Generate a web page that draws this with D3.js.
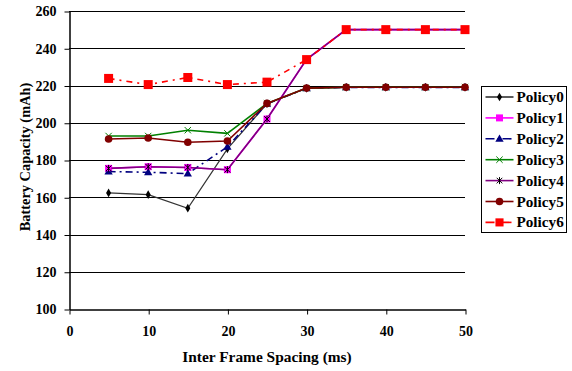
<!DOCTYPE html>
<html>
<head>
<meta charset="utf-8">
<script src="https://cdn.jsdelivr.net/npm/d3@7"></script>
<style>
  body { margin: 0; background: #fff; }
  text { font-family: "Liberation Serif", "Times New Roman", serif; font-weight: bold; }
</style>
</head>
<body>
<div id="chart"></div>
<script>
// data
const spacing = [5, 10, 15, 20, 25, 30, 35, 40, 45, 50];
const policy0 = [162.3, 161.4, 154.1, 186, 210.2, 218.5, 219, 219, 219, 219];
const policy1 = [175.5, 176.4, 176, 174.8, 202, 234, 250, 250, 250, 250];
const policy2 = [173.8, 173.4, 172.7, 187.1, 210.2, 218.5, 219, 219, 219, 219];
const policy3 = [192.9, 192.9, 196, 194.3, 210.4, 218.6, 219.1, 219.1, 219.1, 219.1];
const policy4 = [175.5, 176.4, 176, 174.8, 202, 234, 250, 250, 250, 250];
const policy5 = [191.3, 191.8, 189.5, 190.2, 210.4, 218.6, 219.1, 219.1, 219.1, 219.1];
const policy6 = [223.8, 220.5, 224.3, 220.5, 221.8, 233.9, 250, 250, 250, 250];
const xTicks = [0, 10, 20, 30, 40, 50];
const yTicks = [100, 120, 140, 160, 180, 200, 220, 240, 260];

const series = [
  {name: "Policy0", values: policy0, color: "#000000", line: "#333333", marker: "diamond", dash: null},
  {name: "Policy1", values: policy1, color: "#ff00ff", line: "#ff00ff", marker: "square", dash: null},
  {name: "Policy2", values: policy2, color: "#000080", line: "#000080", marker: "triangle", dash: "7,4,2,4"},
  {name: "Policy3", values: policy3, color: "#008000", line: "#008000", marker: "x", dash: null},
  {name: "Policy4", values: policy4, color: "#000000", line: "#800080", marker: "star", dash: null},
  {name: "Policy5", values: policy5, color: "#800000", line: "#800000", marker: "circle", dash: null},
  {name: "Policy6", values: policy6, color: "#ff0000", line: "#ff0000", marker: "bigsquare", dash: "6,5,2,5"}
];

const width = 572, height = 371;
const margins = {left: 69, right: 107, top: 11, bottom: 62};

const svg = d3.select("#chart")
  .append("svg")
    .attr("width", width)
    .attr("height", height);

const x_scale = d3.scaleLinear()
  .domain([0, 50])
  .range([margins.left, width - margins.right]);

const y_scale = d3.scaleLinear()
  .domain([100, 260])
  .range([height - margins.bottom, margins.top]);

// horizontal gridlines
svg.append("g")
  .selectAll("line")
  .data(yTicks.slice(1))
  .join("line")
    .attr("x1", margins.left)
    .attr("x2", width - margins.right)
    .attr("y1", d => Math.round(y_scale(d)) + 0.5)
    .attr("y2", d => Math.round(y_scale(d)) + 0.5)
    .attr("stroke", "#000")
    .attr("stroke-width", 1);

// y axis
const yAxis = svg.append("g")
  .attr("transform", "translate(" + (margins.left + 0.5) + ",0.5)")
  .call(d3.axisLeft(y_scale).tickValues(yTicks).tickSize(5).tickSizeOuter(0).tickPadding(8));
yAxis.selectAll("text").attr("font-size", "14px").attr("fill", "#000")
  .attr("font-family", "Liberation Serif").attr("font-weight", "bold");
yAxis.select(".domain").attr("stroke-width", 1.5);

// x axis
const xAxis = svg.append("g")
  .attr("transform", "translate(0.5," + (Math.round(y_scale(100)) + 0.5) + ")")
  .call(d3.axisBottom(x_scale).tickValues(xTicks).tickSize(5).tickSizeOuter(0).tickPadding(12));
xAxis.selectAll("text").attr("font-size", "14px").attr("fill", "#000")
  .attr("font-family", "Liberation Serif").attr("font-weight", "bold");
xAxis.select(".domain").attr("stroke-width", 1.5);

// axis titles
svg.append("text")
  .attr("x", (x_scale(0) + x_scale(50)) / 2)
  .attr("y", 362)
  .attr("text-anchor", "middle")
  .attr("font-size", "15.4px")
  .text("Inter Frame Spacing (ms)");

svg.append("text")
  .attr("transform", "translate(30," + ((y_scale(100) + y_scale(260)) / 2 - 3) + ") rotate(-90)")
  .attr("text-anchor", "middle")
  .attr("font-size", "14.4px")
  .text("Battery Capacity (mAh)");

// marker drawing
function drawMarker(g, type, color, cx, cy, scale) {
  const s = scale || 1;
  if (type === "diamond") {
    g.append("path").attr("d", d3.symbol(d3.symbolDiamond, 22 * s)()).attr("transform", "translate(" + cx + "," + cy + ")")
      .attr("fill", color);
  } else if (type === "square") {
    g.append("rect").attr("x", cx - 3.5 * s).attr("y", cy - 3.5 * s).attr("width", 7 * s).attr("height", 7 * s).attr("fill", color);
  } else if (type === "bigsquare") {
    g.append("rect").attr("x", cx - 4.5 * s).attr("y", cy - 4.5 * s).attr("width", 9 * s).attr("height", 9 * s).attr("fill", color);
  } else if (type === "triangle") {
    g.append("path").attr("d", d3.symbol(d3.symbolTriangle, 30 * s)()).attr("transform", "translate(" + cx + "," + (cy + 0.5) + ")")
      .attr("fill", color);
  } else if (type === "x") {
    g.append("path").attr("d", d3.symbol(d3.symbolX, 28 * s)()).attr("transform", "translate(" + cx + "," + cy + ")")
      .attr("fill", "none").attr("stroke", color).attr("stroke-width", 1);
  } else if (type === "star") {
    g.append("path").attr("d", d3.symbol(d3.symbolX, 22 * s)()).attr("transform", "translate(" + cx + "," + cy + ")")
      .attr("fill", "none").attr("stroke", color).attr("stroke-width", 1);
    g.append("line").attr("x1", cx).attr("x2", cx).attr("y1", cy - 3.5 * s).attr("y2", cy + 3.5 * s)
      .attr("stroke", color).attr("stroke-width", 1);
  } else if (type === "circle") {
    g.append("circle").attr("cx", cx).attr("cy", cy).attr("r", 3.8 * s).attr("fill", color);
  }
}

const line = d3.line()
  .x((d, i) => x_scale(spacing[i]))
  .y(d => y_scale(d));

series.forEach(s => {
  const g = svg.append("g").attr("class", "series");
  g.append("path")
    .attr("d", line(s.values))
    .attr("fill", "none")
    .attr("stroke", s.line)
    .attr("stroke-width", s.name === "Policy0" ? 1.2 : 1.6)
    .attr("stroke-dasharray", s.dash);
  s.values.forEach((v, i) => {
    if (s.marker === "star") {
      drawMarker(g, "square", "#ff00ff", x_scale(spacing[i]), y_scale(v), 0.8);
    }
    drawMarker(g, s.marker, s.color, x_scale(spacing[i]), y_scale(v));
  });
});

// legend
const legend = svg.append("g").attr("transform", "translate(481.5,86.5)");
legend.append("rect")
  .attr("width", 85)
  .attr("height", 146)
  .attr("fill", "#fff")
  .attr("stroke", "#000")
  .attr("stroke-width", 1);

series.forEach((s, i) => {
  const y = 10.5 + i * 20.9;
  legend.append("line")
    .attr("x1", 4).attr("x2", 32)
    .attr("y1", y).attr("y2", y)
    .attr("stroke", s.line)
    .attr("stroke-width", 1.6)
    .attr("stroke-dasharray", s.dash ? "9,3,2,3" : null);
  drawMarker(legend, s.marker, s.color, 18, y, s.marker === "bigsquare" ? 0.9 : 1);
  legend.append("text")
    .attr("x", 35)
    .attr("y", y + 5)
    .attr("font-size", "15.2px")
    .text(s.name);
});
</script>
</body>
</html>
